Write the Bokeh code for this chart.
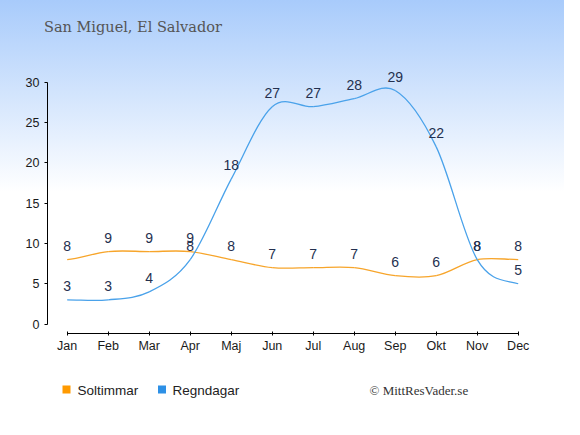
import numpy as np
from bokeh.plotting import figure
from bokeh.layouts import column
from bokeh.models import ColumnDataSource, FixedTicker, Range1d
from bokeh.core.properties import value
from bokeh.embed import file_html
from bokeh.resources import INLINE

title = "San Miguel, El Salvador"
credit = "© MittResVader.se"
months = ["Jan", "Feb", "Mar", "Apr", "Maj", "Jun", "Jul", "Aug", "Sep", "Okt", "Nov", "Dec"]
series_names = ["Soltimmar", "Regndagar"]
soltimmar = [8, 9, 9, 9, 8, 7, 7, 7, 6, 6, 8, 8]
regndagar = [3, 3, 4, 8, 18, 27, 27, 28, 29, 22, 8, 5]
y_ticks = [0, 5, 10, 15, 20, 25, 30]

ORANGE = "#f7a52b"
BLUE = "#4aa2ea"
SWATCH = ["#ff9a00", "#2d90e6"]
LABEL_COLOR = "#24304f"

W = 564
H_MAIN, H_BOT = 363, 56
FL, FR = 47, 27

# ---- main chart
p = figure(width=W, height=H_MAIN, output_backend="svg", toolbar_location=None,
           x_range=Range1d(-0.48, 11.47), y_range=Range1d(-1.18, 33.975),
           min_border_left=FL, min_border_right=FR, min_border_top=50, min_border_bottom=30)
p.background_fill_alpha = 0
p.border_fill_alpha = 0
p.outline_line_color = None
p.grid.visible = False
p.title.text = title
p.title.align = "left"
p.title.offset = -3.5
p.title.standoff = 32
p.title.text_font = "DejaVu Serif"
p.title.text_font_size = "14.5px"
p.title.text_font_style = "normal"
p.title.text_color = "#555555"

xs = np.arange(len(months))


def bezier_source(vals):
    v = np.asarray(vals, dtype=float)
    n = len(v)
    d = {k: [] for k in ("x0", "y0", "x1", "y1", "cx0", "cy0", "cx1", "cy1")}
    for i in range(n - 1):
        pm = v[i - 1] if i > 0 else v[i]
        p0, p1 = v[i], v[i + 1]
        pp = v[i + 2] if i + 2 < n else v[i + 1]
        d["x0"].append(xs[i]); d["y0"].append(p0)
        d["x1"].append(xs[i + 1]); d["y1"].append(p1)
        d["cx0"].append(xs[i] + 1 / 3); d["cy0"].append(p0 + (p1 - pm) / 6)
        d["cx1"].append(xs[i + 1] - 1 / 3); d["cy1"].append(p1 - (pp - p0) / 6)
    return ColumnDataSource(d)


for vals, col in ((soltimmar, ORANGE), (regndagar, BLUE)):
    p.bezier(x0="x0", y0="y0", x1="x1", y1="y1", cx0="cx0", cy0="cy0", cx1="cx1", cy1="cy1",
             source=bezier_source(vals), line_color=col, line_width=1.3)

for vals in (soltimmar, regndagar):
    p.text(x=list(xs), y=vals, text=[str(v) for v in vals], y_offset=-14,
           text_align="center", text_baseline="middle", text_color=LABEL_COLOR,
           text_font=value("Liberation Sans"), text_font_size="14px")

xa = p.xaxis[0]
xa.ticker = FixedTicker(ticks=list(xs))
xa.major_label_overrides = {int(i): m for i, m in zip(xs, months)}
xa.bounds = (0, 11)
ya = p.yaxis[0]
ya.ticker = FixedTicker(ticks=y_ticks)
ya.bounds = (0, 30)
for ax in (xa, ya):
    ax.axis_line_color = "#000000"
    ax.axis_line_width = 1
    ax.major_tick_line_color = "#000000"
    ax.minor_tick_line_color = None
    ax.major_label_text_font = "Liberation Sans"
    ax.major_label_text_font_size = "12.5px"
    ax.major_label_text_color = "#1a1a1a"
xa.major_tick_in = 2
xa.major_tick_out = 2
xa.major_label_standoff = 3
ya.major_tick_in = 0
ya.major_tick_out = 3
ya.major_label_standoff = 5

# ---- legend strip (frame aligned with the main chart; data units = canvas px)
bot = figure(width=W, height=H_BOT, output_backend="svg", toolbar_location=None,
             x_range=Range1d(FL, W - FR), y_range=Range1d(0, H_BOT),
             x_axis_type=None, y_axis_type=None,
             min_border_left=FL, min_border_right=FR, min_border_top=0, min_border_bottom=0)
bot.background_fill_alpha = 0
bot.border_fill_alpha = 0
bot.outline_line_color = None
bot.grid.visible = False
bot.rect(x=[66, 161.5], y=[H_BOT - 26] * 2, width=8, height=8, fill_color=SWATCH, line_color=None)
bot.text(x=[77, 172], y=[H_BOT - 27] * 2, text=series_names, text_font=value("Liberation Sans"),
         text_font_size="13.5px", text_color="#222222", text_baseline="middle", text_align="left")
bot.text(x=[369], y=[H_BOT - 27], text=[credit], text_font=value("Liberation Serif"),
         text_font_size="13px", text_color="#333333", text_baseline="middle", text_align="left")

layout = column(p, bot, spacing=0,
                styles={"background": "linear-gradient(to bottom, #a8cbfb 0px, #ffffff 192px, #ffffff 100%)"})

open("out.html", "w").write(file_html(layout, INLINE))
